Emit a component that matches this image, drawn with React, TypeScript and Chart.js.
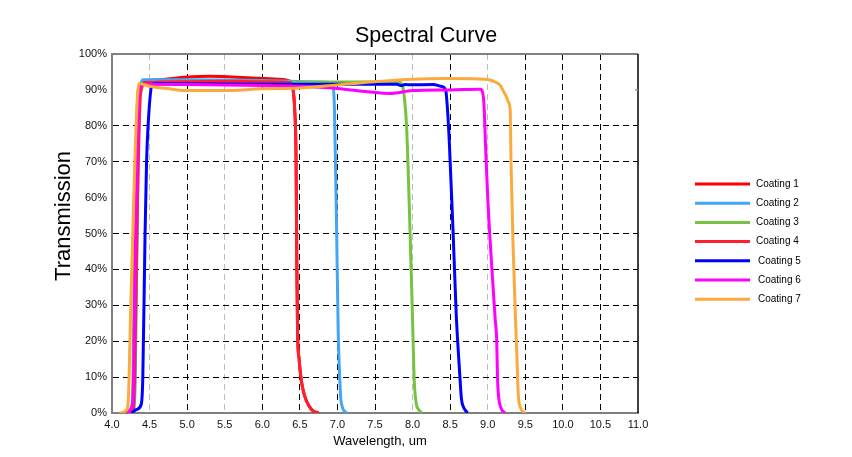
import React, { useEffect, useRef } from "react";
import { Chart, registerables } from "chart.js";

Chart.register(...registerables);

const FONT = "'Liberation Sans', Arial, sans-serif";

// Wavelength (um) / transmission (%) samples for each coating
const coating1X = [4.19, 4.26, 4.29, 4.32, 4.36, 4.40, 4.6, 5.0, 5.3, 5.8, 6.2, 6.38, 6.41, 6.43, 6.45, 6.46, 6.47, 6.49, 6.52, 6.56, 6.62, 6.68, 6.75];
const coating1Y = [0, 1.5, 10, 50, 88, 92, 92.8, 93.6, 93.8, 93.4, 93, 92.3, 90, 85, 70, 40, 22, 15, 9, 5, 2, 0.5, 0];

const coating2X = [4.22, 4.29, 4.31, 4.34, 4.37, 4.42, 5.0, 6.0, 6.6, 6.93, 6.96, 6.99, 7.01, 7.03, 7.05, 7.12];
const coating2Y = [0, 1, 10, 60, 90, 92.8, 92.8, 92.6, 92.3, 92, 85, 50, 23, 10, 3, 0];

const coating3X = [4.20, 4.26, 4.28, 4.31, 4.35, 4.40, 5.0, 6.0, 7.0, 7.8, 7.86, 7.89, 7.92, 7.96, 8.00, 8.02, 8.05, 8.08, 8.12];
const coating3Y = [0, 1, 10, 60, 90, 91.5, 91.8, 92, 92.2, 92.3, 91.5, 88, 80, 55, 26, 10, 2.5, 1, 0];

const coating4X = [4.22, 4.28, 4.30, 4.34, 4.38, 4.45, 5.0, 5.5, 6.0, 6.38, 6.41, 6.43, 6.45, 6.46, 6.47, 6.49, 6.52, 6.56, 6.62, 6.68, 6.75];
const coating4Y = [0, 1, 10, 60, 89, 92, 92.3, 92.4, 92.3, 92, 90, 85, 70, 40, 22, 15, 9, 5, 2, 0.5, 0];

const coating5X = [4.26, 4.33, 4.39, 4.41, 4.44, 4.46, 4.48, 4.53, 4.58, 5.0, 6.0, 7.0, 7.79, 7.85, 7.9, 8.0, 8.27, 8.38, 8.44, 8.46, 8.49, 8.54, 8.58, 8.60, 8.63, 8.65, 8.67, 8.73];
const coating5Y = [0, 1, 2.5, 10, 50, 70, 80, 91.2, 91.8, 91.7, 91.6, 91.6, 91.6, 91.2, 91.5, 91.4, 91.5, 91, 90, 86, 75, 50, 28, 20, 10, 4, 2, 0];

const coating6X = [4.20, 4.26, 4.28, 4.31, 4.35, 4.38, 4.45, 5.0, 6.0, 6.5, 7.0, 7.4, 7.7, 8.0, 8.5, 8.9, 8.92, 8.95, 8.97, 9.0, 9.05, 9.10, 9.12, 9.13, 9.16, 9.23];
const coating6Y = [0, 1.5, 5, 45, 85, 91, 91.6, 91.5, 91.2, 91, 90.4, 89.5, 89, 89.8, 90, 90.2, 90, 86, 75, 60, 42, 26, 20, 10, 2.5, 0];

const coating7X = [4.10, 4.20, 4.22, 4.25, 4.29, 4.33, 4.36, 4.5, 4.8, 5.0, 5.5, 6.0, 6.5, 7.0, 7.5, 8.0, 8.45, 9.0, 9.1, 9.17, 9.2, 9.25, 9.28, 9.30, 9.31, 9.34, 9.37, 9.39, 9.40, 9.42, 9.50];
const coating7Y = [0, 1, 5, 30, 60, 85, 91.8, 91, 90.2, 89.8, 89.8, 90.3, 90.5, 91.4, 92.3, 93, 93.2, 92.9, 92.2, 91.2, 90, 88, 86.4, 84, 70, 45, 26, 15, 8, 2.5, 0];

const seriesNames = ["Coating 1", "Coating 2", "Coating 3", "Coating 4", "Coating 5", "Coating 6", "Coating 7"];
const seriesColors = ["#ff0000", "#42a5f5", "#77c243", "#ff1f2f", "#0000ff", "#ff00ff", "#fbab3c"];
const seriesX = [coating1X, coating2X, coating3X, coating4X, coating5X, coating6X, coating7X];
const seriesY = [coating1Y, coating2Y, coating3Y, coating4Y, coating5Y, coating6Y, coating7Y];

const xMin = 4.0;
const xMax = 11.0;
const xStep = 0.5;
const lightXGrid = [4.5, 5.5, 8.0, 9.0];
const hiddenYGrid = [0, 60, 90, 100];

const chartTitle = "Spectral Curve";
const xTitle = "Wavelength, um";
const yTitle = "Transmission";

// Chart title, axis titles, outer frame and the legend
const decorations = {
  id: "decorations",
  afterDraw(chart: any) {
    const { ctx, chartArea } = chart;
    const yScale = chart.scales.y;
    ctx.save();
    // top and right frame
    ctx.lineWidth = 2;
    ctx.strokeStyle = "#808080";
    ctx.beginPath();
    ctx.moveTo(chartArea.left, chartArea.top);
    ctx.lineTo(chartArea.right, chartArea.top);
    ctx.stroke();
    ctx.strokeStyle = "#000";
    ctx.lineWidth = 1.5;
    ctx.beginPath();
    ctx.moveTo(chartArea.right, chartArea.top);
    ctx.lineTo(chartArea.right, chartArea.bottom);
    ctx.stroke();
    const y90 = yScale.getPixelForValue(90);
    ctx.strokeStyle = "#999";
    ctx.lineWidth = 1.5;
    ctx.beginPath();
    ctx.moveTo(chartArea.right - 3, y90);
    ctx.lineTo(chartArea.right, y90);
    ctx.stroke();

    // chart title
    ctx.fillStyle = "#000";
    ctx.textAlign = "center";
    ctx.textBaseline = "middle";
    ctx.font = `21.5px ${FONT}`;
    ctx.fillText(chartTitle, chart.width / 2, 36);

    // axis titles
    ctx.font = `13px ${FONT}`;
    ctx.fillText(xTitle, (chartArea.left + chartArea.right) / 2 + 5, 441);
    ctx.save();
    ctx.translate(64, 216);
    ctx.rotate(-Math.PI / 2);
    ctx.font = `22px ${FONT}`;
    ctx.fillText(yTitle, 0, 0);
    ctx.restore();

    // legend
    chart.data.datasets.forEach((ds: any, i: number) => {
      const y = 184 + i * 19.2;
      ctx.strokeStyle = ds.borderColor;
      ctx.lineWidth = 3;
      ctx.beginPath();
      ctx.moveTo(695, y);
      ctx.lineTo(750, y);
      ctx.stroke();
      ctx.fillStyle = "#000";
      ctx.textAlign = "left";
      ctx.textBaseline = "middle";
      ctx.font = `10px ${FONT}`;
      ctx.fillText(ds.label, i < 4 ? 756 : 758, y);
    });
    ctx.restore();
  },
};

export default function App() {
  const canvasRef = useRef<HTMLCanvasElement | null>(null);

  useEffect(() => {
    if (!canvasRef.current) return;
    const datasets = seriesNames.map((name, i) => ({
      label: name,
      data: seriesX[i].map((x, j) => ({ x, y: seriesY[i][j] })),
      borderColor: seriesColors[i],
      backgroundColor: seriesColors[i],
      borderWidth: 3,
      pointRadius: 0,
      fill: false,
      showLine: true,
      cubicInterpolationMode: "monotone" as const,
      order: seriesNames.length - i,
    }));

    const chart = new Chart(canvasRef.current, {
      type: "line",
      data: { datasets },
      options: {
        animation: false,
        responsive: false,
        devicePixelRatio: 1,
        parsing: false as any,
        layout: { padding: { left: 0, right: 214, top: 54, bottom: 0 } },
        plugins: {
          legend: { display: false },
          tooltip: { enabled: false },
          title: { display: false },
        },
        scales: {
          x: {
            type: "linear",
            min: xMin,
            max: xMax,
            afterFit(scale: any) {
              scale.height = 44;
            },
            ticks: {
              stepSize: xStep,
              autoSkip: false,
              maxRotation: 0,
              padding: 5,
              color: "#111",
              font: { family: FONT, size: 11 },
              callback: (v: any) => Number(v).toFixed(1),
            },
            grid: {
              drawTicks: false,
              lineWidth: 1,
              color: (c: any) => {
                const v = c.tick ? c.tick.value : null;
                if (v === null || v <= xMin || v >= xMax) return "rgba(0,0,0,0)";
                return lightXGrid.some((g) => Math.abs(g - v) < 1e-6) ? "#bdbdbd" : "#000";
              },
            },
            border: { display: true, color: "#808080", width: 2, dash: [6, 4] },
          },
          y: {
            type: "linear",
            min: 0,
            max: 100,
            afterFit(scale: any) {
              scale.width = 112;
            },
            ticks: {
              stepSize: 10,
              padding: 5,
              color: "#111",
              font: { family: FONT, size: 11 },
              callback: (v: any) => `${v}%`,
            },
            grid: {
              drawTicks: false,
              lineWidth: 1,
              color: (c: any) => {
                const v = c.tick ? c.tick.value : null;
                if (v === null || hiddenYGrid.includes(v)) return "rgba(0,0,0,0)";
                return "#000";
              },
            },
            border: { display: true, color: "#808080", width: 2, dash: [6, 4] },
          },
        },
      },
      plugins: [decorations],
    });

    return () => chart.destroy();
  }, []);

  return (
    <div style={{ position: "absolute", left: 0, top: 0, width: 852, height: 457, background: "#fff" }}>
      <canvas ref={canvasRef} width={852} height={457} />
    </div>
  );
}
